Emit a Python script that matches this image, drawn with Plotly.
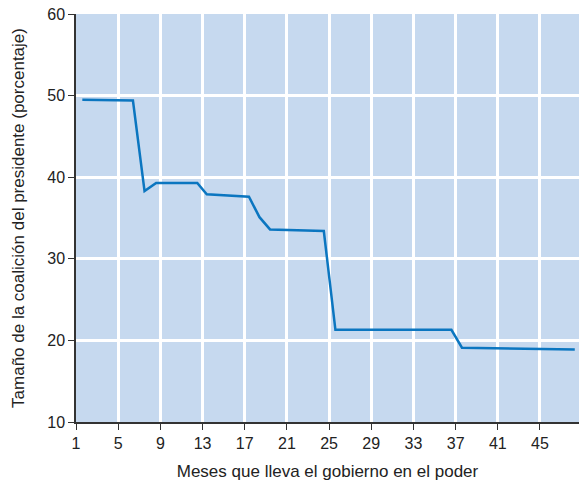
import plotly.graph_objects as go

# months in office and coalition size (percent)
meses = [1.6, 6.4, 7.5, 8.6, 12.5, 13.4, 17.4, 18.4, 19.4, 24.5, 25.6, 36.6, 37.6, 48.3]
coalicion = [49.5, 49.4, 38.3, 39.3, 39.3, 37.9, 37.6, 35.1, 33.6, 33.4, 21.3, 21.3, 19.1, 18.9]

x_ticks = [1, 5, 9, 13, 17, 21, 25, 29, 33, 37, 41, 45]
y_ticks = [10, 20, 30, 40, 50, 60]

fig = go.Figure()
fig.add_trace(go.Scatter(
    x=meses, y=coalicion, mode="lines",
    line=dict(color="#0b76c0", width=2.5),
    showlegend=False,
))

font = dict(family="Liberation Sans, Arial, sans-serif", size=16, color="#222222")

fig.update_layout(
    width=579, height=487,
    margin=dict(l=76, r=0, t=14, b=65),
    paper_bgcolor="white",
    plot_bgcolor="#c6d9ef",
    font=font,
)
fig.update_xaxes(
    range=[1, 48.7], tickvals=x_ticks,
    ticks="outside", ticklen=6, tickcolor="#333333",
    showline=True, linecolor="#333333", linewidth=1.5,
    showgrid=True, gridcolor="white", gridwidth=2.5,
    zeroline=False,
    title=dict(text="Meses que lleva el gobierno en el poder", standoff=14,
               font=dict(size=17)),
)
fig.update_yaxes(
    range=[10, 60], tickvals=y_ticks,
    ticks="outside", ticklen=6, tickcolor="#333333",
    showline=True, linecolor="#333333", linewidth=1.5,
    showgrid=True, gridcolor="white", gridwidth=2.5,
    zeroline=False,
    title=dict(text="Tamaño de la coalición del presidente (porcentaje)", standoff=18,
               font=dict(size=17)),
)

# drop the default body margin so the figure fills the window exactly
fig.write_html("out.html", config={"displayModeBar": False},
               post_script="document.body.style.margin='0';")
